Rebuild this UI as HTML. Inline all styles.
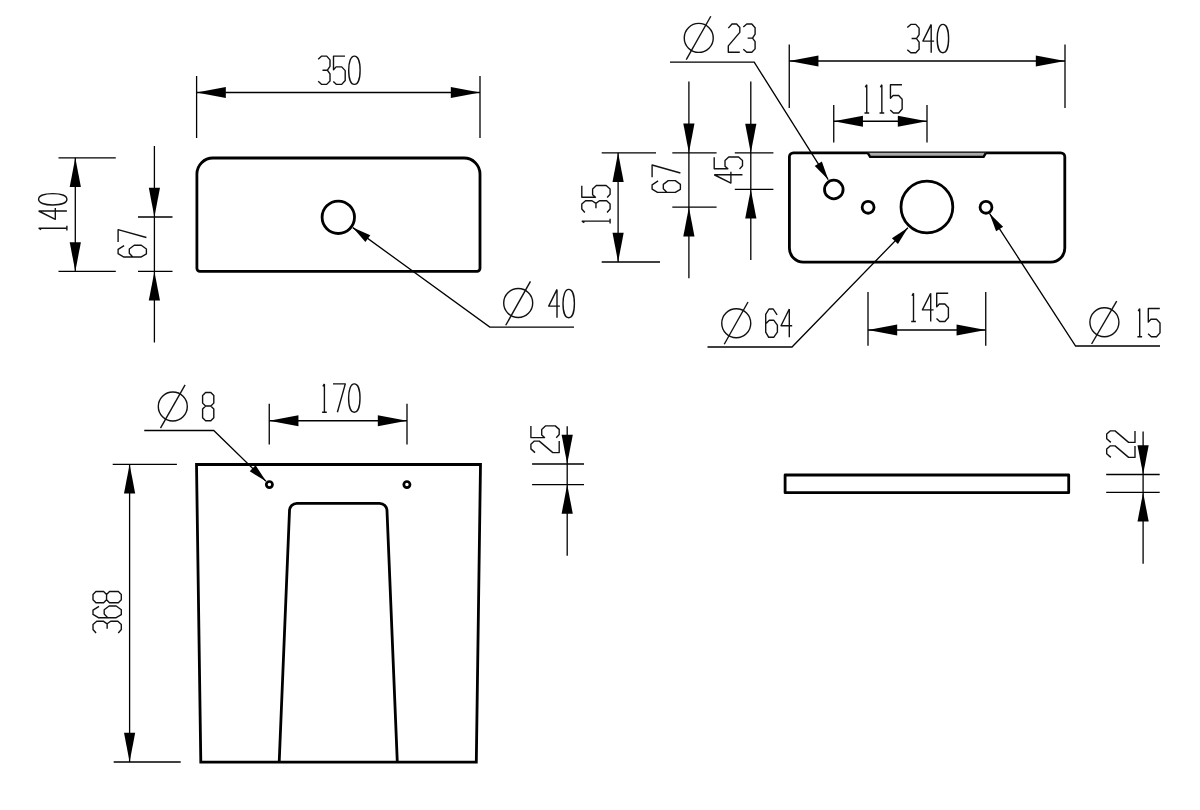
<!DOCTYPE html>
<html><head><meta charset="utf-8"><title>Drawing</title>
<style>
html,body{margin:0;padding:0;background:#fff;}
body{width:1200px;height:810px;overflow:hidden;font-family:"Liberation Sans",sans-serif;}
svg{display:block;}
.k{fill:none;stroke:#000;stroke-width:2.8;stroke-linejoin:round;}
.km{fill:none;stroke:#000;stroke-width:2.8;stroke-linejoin:miter;}
.k2{fill:none;stroke:#000;stroke-width:2.4;stroke-linejoin:miter;}
.k3{fill:none;stroke:#000;stroke-width:2.7;}
.n{fill:none;stroke:#000;stroke-width:1.3;}
.t{fill:none;stroke:#111;stroke-width:1.4;stroke-linejoin:round;stroke-linecap:butt;}
.a{fill:#000;stroke:none;}
</style></head>
<body>
<svg width="1200" height="810" viewBox="0 0 1200 810">
<rect x="0" y="0" width="1200" height="810" fill="#fff"/>
<path class="k" d="M196.9,174 A16,16 0 0 1 212.9,158 L464,158 A16,16 0 0 1 480,174 L480,268.3 A3,3 0 0 1 477,271.3 L199.9,271.3 A3,3 0 0 1 196.9,268.3 Z"/>
<circle class="k" cx="338.3" cy="217.3" r="16.2"/>
<path class="n" d="M196.60,76.00 L196.60,138.00"/>
<path class="n" d="M480.00,76.00 L480.00,138.00"/>
<path class="n" d="M196.60,92.50 L480.00,92.50"/>
<path class="a" d="M196.60,92.50 L225.80,86.90 L225.80,98.10 Z"/>
<path class="a" d="M480.00,92.50 L450.80,98.10 L450.80,86.90 Z"/>
<g class="t" transform="translate(318.20,56.10) scale(1,0.9826)"><path transform="translate(0.00,0)" d="M0,3.1 L3.5,0 L8.5,0 L11.8,3.8 L11.8,10.4 L9.2,14.4 L4.3,14.4 M9.2,14.4 L11.8,18 L11.8,25.3 L8.5,28.8 L3.5,28.8 L0,25.7"/><path transform="translate(15.30,0)" d="M11.5,0 L0,0 L0,13.9 L2.6,11 L8.2,11 L11.7,14.8 L11.7,24.8 L8.2,28.8 L3,28.8 L-0.2,25.8"/><path transform="translate(30.50,0)" d="M5.7,0 C2.1,0 0,6 0,14.4 C0,22.8 2.1,28.8 5.7,28.8 C9.3,28.8 11.4,22.8 11.4,14.4 C11.4,6 9.3,0 5.7,0 Z"/></g>
<path class="n" d="M58.50,157.80 L115.80,157.80"/>
<path class="n" d="M58.50,271.40 L115.80,271.40"/>
<path class="n" d="M75.30,157.80 L75.30,271.40"/>
<path class="a" d="M75.30,157.80 L80.90,187.00 L69.70,187.00 Z"/>
<path class="a" d="M75.30,271.40 L69.70,242.20 L80.90,242.20 Z"/>
<g class="t" transform="translate(38.60,234.70) rotate(-90) scale(1,0.9826)"><path transform="translate(0.00,0)" d="M6.5,0 L6.5,28.8 M6.5,0 L5,2.6 M4.2,28.8 L8.9,28.8"/><path transform="translate(15.10,0)" d="M8.6,0 L0.3,17 L11.5,17 M8.6,0 L8.6,28.8"/><path transform="translate(29.70,0)" d="M5.7,0 C2.1,0 0,6 0,14.4 C0,22.8 2.1,28.8 5.7,28.8 C9.3,28.8 11.4,22.8 11.4,14.4 C11.4,6 9.3,0 5.7,0 Z"/></g>
<path class="n" d="M154.40,146.00 L154.40,342.50"/>
<path class="n" d="M138.00,217.00 L172.50,217.00"/>
<path class="n" d="M138.00,271.40 L172.50,271.40"/>
<path class="a" d="M154.40,217.00 L148.80,187.80 L160.00,187.80 Z"/>
<path class="a" d="M154.40,271.40 L160.00,300.60 L148.80,300.60 Z"/>
<g class="t" transform="translate(118.10,256.95) rotate(-90) scale(1,0.9826)"><path transform="translate(0.00,0)" d="M11.4,6.1 L7.5,0 L3.3,0 L0,5.5 L0,23.6 L3,28.8 L8,28.8 L11.7,23.6 L11.7,16.4 L8,11.4 L3.6,11.4 L0,15"/><path transform="translate(15.00,0)" d="M0,0 L12.3,0 L4.4,28.8"/></g>
<path class="n" d="M352.8,227.6 L489.8,327.1 L574,327.1"/>
<path class="a" d="M352.80,227.60 L370.32,235.13 L365.38,241.93 Z"/>
<circle class="t" cx="518.20" cy="303.00" r="14.5"/>
<path class="t" d="M505.75,325.25 L530.45,281.40"/>
<g class="t" transform="translate(548.40,289.40) scale(1,0.9826)"><path transform="translate(0.00,0)" d="M8.6,0 L0.3,17 L11.5,17 M8.6,0 L8.6,28.8"/><path transform="translate(14.60,0)" d="M5.7,0 C2.1,0 0,6 0,14.4 C0,22.8 2.1,28.8 5.7,28.8 C9.3,28.8 11.4,22.8 11.4,14.4 C11.4,6 9.3,0 5.7,0 Z"/></g>
<path class="k" d="M789.4,156.8 A4,4 0 0 1 793.4,152.8 L1060.8,152.8 A4,4 0 0 1 1064.8,156.8 L1064.8,248.2 A14,14 0 0 1 1050.8,262.2 L803.4,262.2 A14,14 0 0 1 789.4,248.2 Z"/>
<path d="M867.7,152.8 L870.1,156.9 L983.6,156.9 L986,152.8 Z" fill="#aaa" stroke="none"/>
<path d="M867.9,153.2 L870.1,156.9 L983.6,156.9 L985.8,153.2" fill="none" stroke="#000" stroke-width="2.4" stroke-linejoin="miter"/>
<circle class="k" cx="833.8" cy="189.5" r="9.3"/>
<circle class="k" cx="868.1" cy="207.3" r="5.95"/>
<circle class="k" cx="926.9" cy="207" r="25.9"/>
<circle class="k" cx="986" cy="207.3" r="5.95"/>
<path class="n" d="M789.25,44.50 L789.25,108.00"/>
<path class="n" d="M1065.00,44.50 L1065.00,108.00"/>
<path class="n" d="M789.25,61.00 L1065.00,61.00"/>
<path class="a" d="M789.25,61.00 L818.45,55.40 L818.45,66.60 Z"/>
<path class="a" d="M1065.00,61.00 L1035.80,66.60 L1035.80,55.40 Z"/>
<g class="t" transform="translate(907.30,24.40) scale(1,0.9826)"><path transform="translate(0.00,0)" d="M0,3.1 L3.5,0 L8.5,0 L11.8,3.8 L11.8,10.4 L9.2,14.4 L4.3,14.4 M9.2,14.4 L11.8,18 L11.8,25.3 L8.5,28.8 L3.5,28.8 L0,25.7"/><path transform="translate(15.30,0)" d="M8.6,0 L0.3,17 L11.5,17 M8.6,0 L8.6,28.8"/><path transform="translate(29.90,0)" d="M5.7,0 C2.1,0 0,6 0,14.4 C0,22.8 2.1,28.8 5.7,28.8 C9.3,28.8 11.4,22.8 11.4,14.4 C11.4,6 9.3,0 5.7,0 Z"/></g>
<path class="n" d="M833.75,105.00 L833.75,142.50"/>
<path class="n" d="M927.00,105.00 L927.00,142.50"/>
<path class="n" d="M833.75,121.25 L927.00,121.25"/>
<path class="a" d="M833.75,121.25 L862.95,115.65 L862.95,126.85 Z"/>
<path class="a" d="M927.00,121.25 L897.80,126.85 L897.80,115.65 Z"/>
<g class="t" transform="translate(860.25,84.70) scale(1,0.9826)"><path transform="translate(0.00,0)" d="M6.5,0 L6.5,28.8 M6.5,0 L5,2.6 M4.2,28.8 L8.9,28.8"/><path transform="translate(15.10,0)" d="M6.5,0 L6.5,28.8 M6.5,0 L5,2.6 M4.2,28.8 L8.9,28.8"/><path transform="translate(30.20,0)" d="M11.5,0 L0,0 L0,13.9 L2.6,11 L8.2,11 L11.7,14.8 L11.7,24.8 L8.2,28.8 L3,28.8 L-0.2,25.8"/></g>
<path class="n" d="M601.70,152.80 L656.00,152.80"/>
<path class="n" d="M601.70,262.00 L660.00,262.00"/>
<path class="n" d="M618.10,152.80 L618.10,262.00"/>
<path class="a" d="M618.10,152.80 L623.70,182.00 L612.50,182.00 Z"/>
<path class="a" d="M618.10,262.00 L612.50,232.80 L623.70,232.80 Z"/>
<g class="t" transform="translate(581.80,227.65) rotate(-90) scale(1,0.9826)"><path transform="translate(0.00,0)" d="M6.5,0 L6.5,28.8 M6.5,0 L5,2.6 M4.2,28.8 L8.9,28.8"/><path transform="translate(15.10,0)" d="M0,3.1 L3.5,0 L8.5,0 L11.8,3.8 L11.8,10.4 L9.2,14.4 L4.3,14.4 M9.2,14.4 L11.8,18 L11.8,25.3 L8.5,28.8 L3.5,28.8 L0,25.7"/><path transform="translate(30.40,0)" d="M11.5,0 L0,0 L0,13.9 L2.6,11 L8.2,11 L11.7,14.8 L11.7,24.8 L8.2,28.8 L3,28.8 L-0.2,25.8"/></g>
<path class="n" d="M688.90,81.40 L688.90,278.30"/>
<path class="n" d="M672.30,152.80 L716.60,152.80"/>
<path class="n" d="M672.30,207.20 L716.60,207.20"/>
<path class="a" d="M688.90,152.80 L683.30,123.60 L694.50,123.60 Z"/>
<path class="a" d="M688.90,207.20 L694.50,236.40 L683.30,236.40 Z"/>
<g class="t" transform="translate(652.10,192.35) rotate(-90) scale(1,0.9826)"><path transform="translate(0.00,0)" d="M11.4,6.1 L7.5,0 L3.3,0 L0,5.5 L0,23.6 L3,28.8 L8,28.8 L11.7,23.6 L11.7,16.4 L8,11.4 L3.6,11.4 L0,15"/><path transform="translate(15.00,0)" d="M0,0 L12.3,0 L4.4,28.8"/></g>
<path class="n" d="M750.80,81.40 L750.80,260.10"/>
<path class="n" d="M734.80,152.90 L773.40,152.90"/>
<path class="n" d="M734.80,189.40 L773.40,189.40"/>
<path class="a" d="M750.80,152.90 L745.20,123.70 L756.40,123.70 Z"/>
<path class="a" d="M750.80,189.40 L756.40,218.60 L745.20,218.60 Z"/>
<g class="t" transform="translate(714.20,183.35) rotate(-90) scale(1,0.9826)"><path transform="translate(0.00,0)" d="M8.6,0 L0.3,17 L11.5,17 M8.6,0 L8.6,28.8"/><path transform="translate(14.60,0)" d="M11.5,0 L0,0 L0,13.9 L2.6,11 L8.2,11 L11.7,14.8 L11.7,24.8 L8.2,28.8 L3,28.8 L-0.2,25.8"/></g>
<path class="n" d="M670,62.1 L754.2,62.1 L828.2,179.6"/>
<path class="a" d="M828.20,179.60 L814.73,166.10 L821.84,161.62 Z"/>
<circle class="t" cx="698.75" cy="37.90" r="14.5"/>
<path class="t" d="M686.25,59.60 L710.80,16.25"/>
<g class="t" transform="translate(728.30,24.00) scale(1,0.9826)"><path transform="translate(0.00,0)" d="M0,4.2 L3.7,0 L8.3,0 L11.5,3.5 L11.5,8.5 L0,22.3 L0,28.8 L11.5,28.8"/><path transform="translate(15.00,0)" d="M0,3.1 L3.5,0 L8.5,0 L11.8,3.8 L11.8,10.4 L9.2,14.4 L4.3,14.4 M9.2,14.4 L11.8,18 L11.8,25.3 L8.5,28.8 L3.5,28.8 L0,25.7"/></g>
<path class="n" d="M707.5,347 L792,347 L907.9,227.8"/>
<path class="a" d="M907.90,227.80 L897.94,244.06 L891.92,238.21 Z"/>
<circle class="t" cx="736.25" cy="323.25" r="14.5"/>
<path class="t" d="M724.25,344.25 L748.00,302.00"/>
<g class="t" transform="translate(765.70,309.00) scale(1,0.9826)"><path transform="translate(0.00,0)" d="M11.4,6.1 L7.5,0 L3.3,0 L0,5.5 L0,23.6 L3,28.8 L8,28.8 L11.7,23.6 L11.7,16.4 L8,11.4 L3.6,11.4 L0,15"/><path transform="translate(15.00,0)" d="M8.6,0 L0.3,17 L11.5,17 M8.6,0 L8.6,28.8"/></g>
<path class="n" d="M868.00,292.00 L868.00,345.75"/>
<path class="n" d="M985.75,292.00 L985.75,345.75"/>
<path class="n" d="M868.00,330.00 L985.75,330.00"/>
<path class="a" d="M868.00,330.00 L897.20,324.40 L897.20,335.60 Z"/>
<path class="a" d="M985.75,330.00 L956.55,335.60 L956.55,324.40 Z"/>
<g class="t" transform="translate(907.00,293.20) scale(1,0.9826)"><path transform="translate(0.00,0)" d="M6.5,0 L6.5,28.8 M6.5,0 L5,2.6 M4.2,28.8 L8.9,28.8"/><path transform="translate(15.10,0)" d="M8.6,0 L0.3,17 L11.5,17 M8.6,0 L8.6,28.8"/><path transform="translate(29.70,0)" d="M11.5,0 L0,0 L0,13.9 L2.6,11 L8.2,11 L11.7,14.8 L11.7,24.8 L8.2,28.8 L3,28.8 L-0.2,25.8"/></g>
<path class="n" d="M989.5,213.4 L1075.6,346 L1160,346"/>
<path class="a" d="M989.50,213.40 L1003.15,226.71 L996.11,231.29 Z"/>
<circle class="t" cx="1104.40" cy="322.20" r="14.5"/>
<path class="t" d="M1091.60,344.00 L1116.70,301.10"/>
<g class="t" transform="translate(1133.20,308.50) scale(1,0.9826)"><path transform="translate(0.00,0)" d="M6.5,0 L6.5,28.8 M6.5,0 L5,2.6 M4.2,28.8 L8.9,28.8"/><path transform="translate(15.10,0)" d="M11.5,0 L0,0 L0,13.9 L2.6,11 L8.2,11 L11.7,14.8 L11.7,24.8 L8.2,28.8 L3,28.8 L-0.2,25.8"/></g>
<path class="km" d="M196.5,464.5 L480.5,464.5 L476.3,762.1 L200.8,762.1 Z"/>
<path class="km" d="M279.2,762.1 L289.5,510.8 A7.4,7.4 0 0 1 296.9,503.3 L379.6,503.3 A7.4,7.4 0 0 1 387.0,510.8 L397.3,762.1"/>
<circle class="k3" cx="269.4" cy="484.6" r="3.1"/>
<circle class="k3" cx="406.9" cy="484.6" r="3.1"/>
<path class="n" d="M112.70,464.30 L176.90,464.30"/>
<path class="n" d="M113.70,762.00 L180.70,762.00"/>
<path class="n" d="M129.60,464.30 L129.60,762.00"/>
<path class="a" d="M129.60,464.30 L135.20,493.50 L124.00,493.50 Z"/>
<path class="a" d="M129.60,762.00 L124.00,732.80 L135.20,732.80 Z"/>
<g class="t" transform="translate(93.00,633.00) rotate(-90) scale(1,0.9826)"><path transform="translate(0.00,0)" d="M0,3.1 L3.5,0 L8.5,0 L11.8,3.8 L11.8,10.4 L9.2,14.4 L4.3,14.4 M9.2,14.4 L11.8,18 L11.8,25.3 L8.5,28.8 L3.5,28.8 L0,25.7"/><path transform="translate(15.30,0)" d="M11.4,6.1 L7.5,0 L3.3,0 L0,5.5 L0,23.6 L3,28.8 L8,28.8 L11.7,23.6 L11.7,16.4 L8,11.4 L3.6,11.4 L0,15"/><path transform="translate(30.30,0)" d="M3,0 L8.2,0 L11.2,3 L11.2,10.8 L8.2,13.8 L3,13.8 L0,10.8 L0,3 Z M3,13.8 L0,16.8 L0,25.8 L3,28.8 L8.2,28.8 L11.2,25.8 L11.2,16.8 L8.2,13.8"/></g>
<path class="n" d="M269.25,403.75 L269.25,444.50"/>
<path class="n" d="M407.00,403.75 L407.00,444.50"/>
<path class="n" d="M269.25,420.75 L407.00,420.75"/>
<path class="a" d="M269.25,420.75 L298.45,415.15 L298.45,426.35 Z"/>
<path class="a" d="M407.00,420.75 L377.80,426.35 L377.80,415.15 Z"/>
<g class="t" transform="translate(317.90,383.90) scale(1,0.9826)"><path transform="translate(0.00,0)" d="M6.5,0 L6.5,28.8 M6.5,0 L5,2.6 M4.2,28.8 L8.9,28.8"/><path transform="translate(15.10,0)" d="M0,0 L12.3,0 L4.4,28.8"/><path transform="translate(30.70,0)" d="M5.7,0 C2.1,0 0,6 0,14.4 C0,22.8 2.1,28.8 5.7,28.8 C9.3,28.8 11.4,22.8 11.4,14.4 C11.4,6 9.3,0 5.7,0 Z"/></g>
<path class="n" d="M144.25,430.5 L213.75,430.5 L266,481.3"/>
<path class="a" d="M266.00,481.30 L249.74,471.35 L255.59,465.32 Z"/>
<circle class="t" cx="172.80" cy="406.50" r="14.5"/>
<path class="t" d="M160.50,428.20 L185.10,384.90"/>
<g class="t" transform="translate(202.60,392.50) scale(1,0.9826)"><path transform="translate(0.00,0)" d="M3,0 L8.2,0 L11.2,3 L11.2,10.8 L8.2,13.8 L3,13.8 L0,10.8 L0,3 Z M3,13.8 L0,16.8 L0,25.8 L3,28.8 L8.2,28.8 L11.2,25.8 L11.2,16.8 L8.2,13.8"/></g>
<path class="n" d="M567.20,426.20 L567.20,555.80"/>
<path class="n" d="M532.10,464.00 L584.00,464.00"/>
<path class="n" d="M532.10,484.60 L584.00,484.60"/>
<path class="a" d="M567.20,464.00 L561.60,434.80 L572.80,434.80 Z"/>
<path class="a" d="M567.20,484.60 L572.80,513.80 L561.60,513.80 Z"/>
<g class="t" transform="translate(530.90,452.60) rotate(-90) scale(1,0.9826)"><path transform="translate(0.00,0)" d="M0,4.2 L3.7,0 L8.3,0 L11.5,3.5 L11.5,8.5 L0,22.3 L0,28.8 L11.5,28.8"/><path transform="translate(15.00,0)" d="M11.5,0 L0,0 L0,13.9 L2.6,11 L8.2,11 L11.7,14.8 L11.7,24.8 L8.2,28.8 L3,28.8 L-0.2,25.8"/></g>
<rect class="k" x="785.1" y="475" width="283.6" height="17.7"/>
<path class="n" d="M1143.10,431.50 L1143.10,563.70"/>
<path class="n" d="M1106.20,474.50 L1159.70,474.50"/>
<path class="n" d="M1106.20,492.40 L1159.70,492.40"/>
<path class="a" d="M1143.10,474.50 L1137.50,445.30 L1148.70,445.30 Z"/>
<path class="a" d="M1143.10,492.40 L1148.70,521.60 L1137.50,521.60 Z"/>
<g class="t" transform="translate(1106.70,457.40) rotate(-90) scale(1,0.9826)"><path transform="translate(0.00,0)" d="M0,4.2 L3.7,0 L8.3,0 L11.5,3.5 L11.5,8.5 L0,22.3 L0,28.8 L11.5,28.8"/><path transform="translate(15.00,0)" d="M0,4.2 L3.7,0 L8.3,0 L11.5,3.5 L11.5,8.5 L0,22.3 L0,28.8 L11.5,28.8"/></g>
</svg>
</body></html>
